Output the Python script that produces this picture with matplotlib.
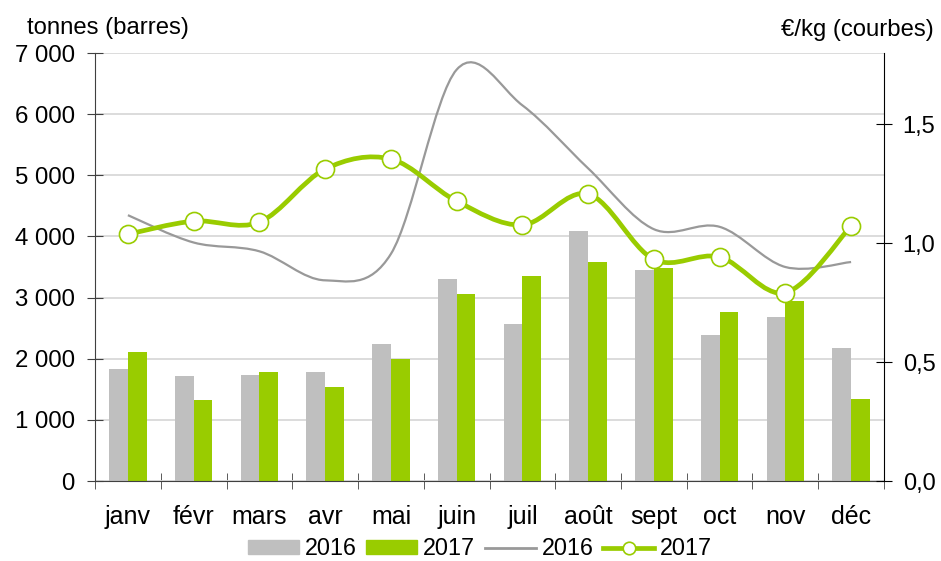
import numpy as np
import matplotlib
matplotlib.use("Agg")
import matplotlib.pyplot as plt
from matplotlib.path import Path
from matplotlib.patches import PathPatch, Patch
from matplotlib.lines import Line2D
from matplotlib.ticker import FuncFormatter

plt.rcParams['font.family'] = ['Liberation Sans', 'DejaVu Sans']

months = ['janv', 'févr', 'mars', 'avr', 'mai', 'juin', 'juil', 'août', 'sept', 'oct', 'nov', 'déc']
tonnes_2016 = [1835, 1716, 1727, 1781, 2233, 3312, 2571, 4096, 3443, 2386, 2675, 2168]
tonnes_2017 = [2103, 1324, 1781, 1536, 1988, 3056, 3345, 3574, 3480, 2767, 2952, 1340]
prix_2016 = [1.118, 1.003, 0.966, 0.844, 0.955, 1.730, 1.580, 1.315, 1.059, 1.069, 0.900, 0.921]
prix_2017 = [1.038, 1.093, 1.089, 1.312, 1.354, 1.177, 1.077, 1.207, 0.932, 0.942, 0.792, 1.073]

GREY_BAR = '#BFBFBF'
GREEN = '#99CC00'
GREY_LINE = '#999999'


def smooth_path(x, y):
    # courbe lissee facon Excel (Bezier type Catmull-Rom)
    pts = np.column_stack([x, y]).astype(float)
    n = len(pts)
    verts = [pts[0]]
    codes = [Path.MOVETO]
    for i in range(n - 1):
        p0 = pts[i - 1] if i > 0 else pts[i]
        p1 = pts[i]
        p2 = pts[i + 1]
        p3 = pts[i + 2] if i + 2 < n else pts[i + 1]
        c1 = p1 + (p2 - p0) / 6
        c2 = p2 - (p3 - p1) / 6
        verts += [c1, c2, p2]
        codes += [Path.CURVE4] * 3
    return Path(verts, codes)


fig = plt.figure(figsize=(9.41, 5.61), dpi=100)
ax = fig.add_axes([0.101, 0.1426, 0.8384, 0.7629])
ax2 = ax.twinx()

x = np.arange(len(months))
w = 0.285
ax.bar(x - w / 2, tonnes_2016, w, color=GREY_BAR, zorder=2)
ax.bar(x + w / 2, tonnes_2017, w, color=GREEN, zorder=2)

ax.set_xlim(-0.5, 11.5)
ax.set_ylim(0, 7000)
ax.set_yticks(range(0, 7001, 1000))
ax.yaxis.set_major_formatter(FuncFormatter(lambda v, p: f'{int(v):,}'.replace(',', ' ')))
ax.grid(axis='y', color='#D9D9D9', lw=1.3, zorder=0)
ax.set_axisbelow(True)

ax.set_xticks(x)
ax.set_xticklabels(months, fontsize=18)
ax.set_xticks(np.arange(-0.5, 12, 1), minor=True)
ax.tick_params(axis='x', which='major', length=0, pad=17.5)
ax.tick_params(axis='x', which='minor', direction='inout', length=11, color='#404040')
ax.tick_params(axis='y', direction='inout', length=11, labelsize=17.3, pad=9, color='#404040')

for s in ['top', 'right']:
    ax.spines[s].set_visible(False)
ax.spines['left'].set_color('#404040')
ax.spines['bottom'].set_color('#404040')
ax.spines['bottom'].set_zorder(3)

ax2.add_patch(PathPatch(smooth_path(x, prix_2016), fill=False, edgecolor=GREY_LINE, lw=1.6, zorder=3))
ax2.add_patch(PathPatch(smooth_path(x, prix_2017), fill=False, edgecolor=GREEN, lw=3.4, zorder=4))
ax2.plot(x, prix_2017, ls='none', marker='o', ms=13, mfc='white', mec=GREEN, mew=1.2, zorder=5)

ax2.set_ylim(0, 1.8)
ax2.set_yticks([0, 0.5, 1.0, 1.5])
ax2.yaxis.set_major_formatter(FuncFormatter(lambda v, p: f'{v:.1f}'.replace('.', ',')))
ax2.tick_params(axis='y', direction='inout', length=11, labelsize=17, pad=8, color='black')
for s in ['top', 'left', 'bottom']:
    ax2.spines[s].set_visible(False)
ax2.spines['right'].set_color('black')

fig.text(0.029, 0.95, 'tonnes (barres)', fontsize=17.2, va='center', ha='left')
fig.text(0.992, 0.947, '€/kg (courbes)', fontsize=17.2, va='center', ha='right')

handles = [
    Patch(color=GREY_BAR),
    Patch(color=GREEN),
    Line2D([], [], color=GREY_LINE, lw=2),
    Line2D([], [], color=GREEN, lw=3.4, marker='o', ms=9, mfc='white', mec=GREEN, mew=1.2),
]
fig.legend(handles, ['2016', '2017', '2016', '2017'], loc='center', bbox_to_anchor=(0.51, 0.022),
           ncol=4, frameon=False, fontsize=16.8, handlelength=2.2, handleheight=0.55,
           handletextpad=0.25, columnspacing=0.4, borderaxespad=0, borderpad=0)

fig.savefig('out.png', dpi=100)
